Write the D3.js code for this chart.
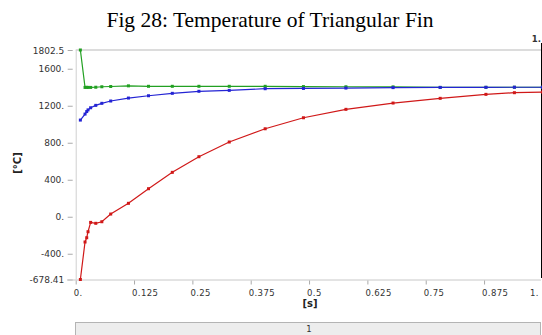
<!DOCTYPE html>
<html><head><meta charset="utf-8">
<script src="https://cdn.jsdelivr.net/npm/d3@7"></script>
<style>
body{margin:0;background:#fff;}
svg{display:block;}
</style></head>
<body>
<svg id="chart" width="542" height="335"></svg>
<script>
const title = "Fig 28: Temperature of Triangular Fin";
const times = [0.01, 0.02, 0.0236, 0.0264, 0.032, 0.043, 0.056, 0.075, 0.113, 0.156, 0.207, 0.264, 0.329, 0.406, 0.488, 0.579, 0.68, 0.781, 0.879, 0.94, 1.0];
const greenValues = [1802.5, 1398, 1399, 1398, 1398, 1400, 1405, 1408, 1415, 1410, 1410, 1410, 1410, 1410, 1407, 1405, 1404, 1398, 1399, 1400, 1400];
const blueValues = [1045, 1110, 1137, 1155, 1178, 1204, 1226, 1251, 1283, 1308, 1334, 1356, 1366, 1384, 1387, 1391, 1396, 1398, 1399, 1400, 1400];
const redValues = [-678.41, -273, -227, -162, -61, -71, -54, 29, 145, 303, 480, 649, 808, 951, 1070, 1161, 1229, 1280, 1323, 1341, 1348];
const xTickValues = [0, 0.125, 0.25, 0.375, 0.5, 0.625, 0.75, 0.875, 1.0];
const xTickLabels = ["0.", "0.125", "0.25", "0.375", "0.5", "0.625", "0.75", "0.875", "1."];
const yTickValues = [1802.5, 1600, 1200, 800, 400, 0, -400, -678.41];
const yTickLabels = ["1802.5", "1600.", "1200.", "800.", "400.", "0.", "-400.", "-678.41"];
const xAxisTitle = "[s]";
const yAxisTitle = "[°C]";
const sliderLabel = "1";
const cornerLabel = "1.";

const svg = d3.select("#chart");
const x = d3.scaleLinear().domain([0, 1]).range([75.7, 542.4]);
const y = d3.scaleLinear().domain([-678.41, 1802.5]).range([279.5, 50]);
const font = "'DejaVu Sans', Verdana, sans-serif";

// title
svg.append("text").attr("x", 270).attr("y", 27).attr("text-anchor", "middle")
  .attr("font-family", "'Liberation Serif', 'Times New Roman', serif").attr("font-size", 21.5)
  .attr("fill", "#000").text(title);

// top grid line
svg.append("line").attr("x1", 75.7).attr("x2", 541).attr("y1", y(1802.5)).attr("y2", y(1802.5))
  .attr("stroke", "#dcdcdc").attr("stroke-width", 2);

// right frame line
svg.append("line").attr("x1", 541.5).attr("x2", 541.5).attr("y1", 43).attr("y2", 278)
  .attr("stroke", "#000").attr("stroke-width", 1);

// corner label
svg.append("text").attr("x", 541).attr("y", 41.5).attr("text-anchor", "end")
  .attr("font-family", font).attr("font-size", 8.5).attr("font-weight", "bold").attr("fill", "#333").text(cornerLabel);

// y axis
const yAxis = svg.append("g").attr("transform", "translate(75.7,0)")
  .call(d3.axisLeft(y).tickValues(yTickValues).tickFormat((d, i) => yTickLabels[i]).tickSizeOuter(0));
yAxis.select(".domain").attr("stroke", "#d0d0d0").attr("d", `M0.5,${y(1802.5)}V${y(-678.41)}`);
yAxis.selectAll(".tick line").attr("x1", -3).attr("x2", -8).attr("stroke", "#aaa");
yAxis.selectAll(".tick text").attr("x", -11.5).attr("dy", "0.35em")
  .attr("font-family", font).attr("font-size", 9).attr("fill", "#333");

// x axis
const xAxis = svg.append("g").attr("transform", `translate(0,${y(-678.41)})`)
  .call(d3.axisBottom(x).tickValues(xTickValues).tickFormat((d, i) => xTickLabels[i]).tickSizeOuter(0));
xAxis.select(".domain").attr("stroke", "#c8c8c8").attr("d", "M67,0.5H541");
xAxis.selectAll(".tick line").attr("y1", 1).attr("y2", 5).attr("stroke", "#aaa");
xAxis.selectAll(".tick text").attr("text-anchor", "start").attr("x", -2.5).attr("y", 16.5).attr("dy", 0)
  .attr("font-family", font).attr("font-size", 8.5).attr("letter-spacing", 0.4).attr("fill", "#333");
xAxis.selectAll(".tick").filter(d => d === 1).select("text").attr("text-anchor", "end").attr("x", -4);

// axis titles
svg.append("text").attr("x", 310).attr("y", 306.5).attr("text-anchor", "middle")
  .attr("font-family", font).attr("font-size", 10).attr("font-weight", "bold").attr("fill", "#222").text(xAxisTitle);
svg.append("text").attr("transform", "translate(21,163) rotate(-90)").attr("text-anchor", "middle")
  .attr("font-family", font).attr("font-size", 10).attr("font-weight", "bold").attr("fill", "#222").text(yAxisTitle);

// slider bar
svg.append("rect").attr("x", 75.5).attr("y", 322.5).attr("width", 465).attr("height", 14)
  .attr("fill", "#ededed").attr("stroke", "#b4b4b4");
svg.append("text").attr("x", 309).attr("y", 332).attr("text-anchor", "middle")
  .attr("font-family", font).attr("font-size", 8.5).attr("fill", "#333").text(sliderLabel);

// series
const series = [
  {values: redValues, color: "#d01818"},
  {values: greenValues, color: "#22a022"},
  {values: blueValues, color: "#2424d4"}
];
const line = d3.line().x(d => x(d[0])).y(d => y(d[1]));
series.forEach(s => {
  const pts = times.map((t, i) => [t, s.values[i]]);
  svg.append("path").datum(pts).attr("d", line).attr("fill", "none")
    .attr("stroke", s.color).attr("stroke-width", 1.2);
  svg.append("g").selectAll("rect").data(pts).join("rect")
    .attr("x", d => x(d[0]) - 1.5).attr("y", d => y(d[1]) - 1.5)
    .attr("width", 3).attr("height", 3).attr("fill", s.color);
});
</script>
</body></html>
